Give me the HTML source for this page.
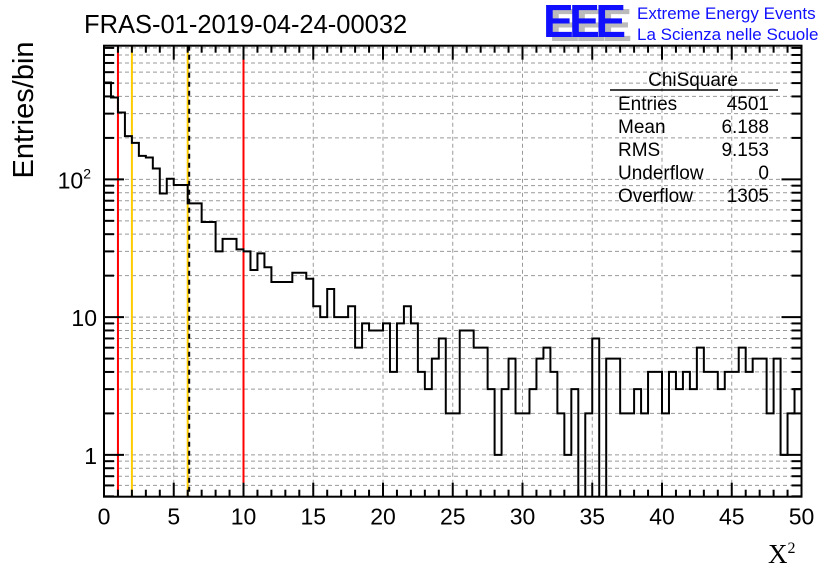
<!DOCTYPE html>
<html><head><meta charset="utf-8"><style>
html,body{margin:0;padding:0;background:#fff;}
svg{display:block;font-family:"Liberation Sans",sans-serif;}
</style></head><body>
<svg id="chart" width="836" height="572" viewBox="0 0 836 572">
<g id="grid"></g>
<g id="refs"></g>
<clipPath id="clip"><rect x="104" y="45.7" width="697.5" height="451"/></clipPath>
<path id="hist" fill="none" stroke="#000" stroke-width="2" clip-path="url(#clip)"/>
<rect x="104" y="45.7" width="697.5" height="451" fill="none" stroke="#000" stroke-width="2"/>
<g id="axes"></g>
<text x="84" y="33" font-size="25.5">FRAS-01-2019-04-24-00032</text>
<g>
<text x="549" y="41" font-size="46" font-weight="bold" fill="#bbb" letter-spacing="-4.5">EEE</text>
<text x="543" y="37" font-size="46" font-weight="bold" fill="#1010ff" letter-spacing="-4.5">EEE</text>
<text x="637" y="19" font-size="17" fill="#1010ff">Extreme Energy Events</text>
<text x="637" y="40" font-size="17" fill="#1010ff">La Scienza nelle Scuole</text>
</g>
<g font-size="19">
<text x="693" y="86" text-anchor="middle">ChiSquare</text>
<line x1="610" y1="90" x2="778" y2="90" stroke="#000" stroke-width="1.5"/>
<text x="618" y="110">Entries</text><text x="769" y="110" text-anchor="end">4501</text>
<text x="618" y="133">Mean</text><text x="769" y="133" text-anchor="end">6.188</text>
<text x="618" y="156">RMS</text><text x="769" y="156" text-anchor="end">9.153</text>
<text x="618" y="179">Underflow</text><text x="769" y="179" text-anchor="end">0</text>
<text x="618" y="202">Overflow</text><text x="769" y="202" text-anchor="end">1305</text>
</g>
<text transform="translate(33,110) rotate(-90)" text-anchor="middle" font-size="29">Entries/bin</text>
<text x="768" y="563" font-size="27" font-family="Liberation Serif,serif">X<tspan font-size="16" dy="-10">2</tspan></text>
</svg>
<script>
const binCounts=[505,393,306,206,184,148,144,120,79,101,91,91,67,67,49,49,30,37,37,31,30,22,29,23,18,18,18,21,21,19,12,10,16,10,10,12,6,9,8,8,9,4,9,12,9,4,3,5,7,2,2,8,8,6,6,3,1,3,5,2,2,3,5,6,4,2,1,3,0,2,7,0,5,5,2,2,3,2,4,4,2,4,3,4,3,6,4,4,3,4,4,6,4,5,5,2,5,1,2,3];
const xTicks=[0,5,10,15,20,25,30,35,40,45,50];
const yTickLabels=[{v:1,t:"1"},{v:10,t:"10"},{v:100,t:"10"}];
const refRed=[1,10];
const refYellow=[2,6];
const meanLine=[6];
const X0=104,X1=801.5,Y0=496.7,Y1=45.7,XMIN=0,XMAX=50,YMIN=0.497,YMAX=934;
const NS="http://www.w3.org/2000/svg";
function sx(v){return X0+(v-XMIN)/(XMAX-XMIN)*(X1-X0);}
function sy(v){if(v<=0)return Y0+20;return Y0-(Math.log10(v)-Math.log10(YMIN))/(Math.log10(YMAX)-Math.log10(YMIN))*(Y0-Y1);}
function mk(tag,attrs,parent){const e=document.createElementNS(NS,tag);for(const k in attrs)e.setAttribute(k,attrs[k]);parent.appendChild(e);return e;}
const grid=document.getElementById('grid'),axes=document.getElementById('axes'),refs=document.getElementById('refs');
for(const t of xTicks){if(t===XMIN||t===XMAX)continue;const l=mk('line',{x1:sx(t),x2:sx(t),y1:Y1,y2:Y0,stroke:'#999','stroke-dasharray':'4,3','stroke-width':1},grid);

}
for(let d=0.1;d<=100;d*=10){for(let m=1;m<10;m++){const v=d*m;if(v<YMIN||v>YMAX)continue;const y=sy(v);
const l=mk('line',{x1:X0,x2:X1,y1:y,y2:y,stroke:'#999','stroke-dasharray':'4,3','stroke-width':1},grid);


const big=(m===1);
const tl=mk('line',{x1:X0,x2:X0+(big?20:10),y1:y,y2:y,stroke:'#000','stroke-width':2},axes);


const tr=mk('line',{x1:X1,x2:X1-(big?20:10),y1:y,y2:y,stroke:'#000','stroke-width':2},axes);

}}
for(let v=XMIN;v<=XMAX;v+=1){const big=(v%5===0);const x=sx(v);
const tb=mk('line',{x1:x,x2:x,y1:Y0,y2:Y0-(big?14:7),stroke:'#000','stroke-width':2},axes);


const tt=mk('line',{x1:x,x2:x,y1:Y1,y2:Y1+(big?14:7),stroke:'#000','stroke-width':2},axes);

}
for(const t of xTicks){const tx=mk('text',{x:sx(t),y:Y0+28,'text-anchor':'middle','font-size':23},axes);tx.textContent=t;

}
for(const o of yTickLabels){const tx=mk('text',{x:o.v===100?91:97,y:sy(o.v)+9,'text-anchor':'end','font-size':23},axes);tx.textContent=o.t;


if(o.v===100){const s=mk('tspan',{'font-size':14,dy:-10},tx);s.textContent='2';}}
for(const v of refRed){const l=mk('line',{x1:sx(v),x2:sx(v),y1:Y1,y2:Y0,stroke:'#f00','stroke-width':2},refs);

}
for(const v of refYellow){const l=mk('line',{x1:sx(v),x2:sx(v),y1:Y1,y2:Y0,stroke:'#fc0','stroke-width':2},refs);

}
for(const v of meanLine){const l=mk('line',{x1:sx(v)+1.5,x2:sx(v)+1.5,y1:Y1,y2:Y0,stroke:'#000','stroke-width':2,'stroke-dasharray':'5,4'},refs);

}
const bw=(XMAX-XMIN)/binCounts.length;let d='';
binCounts.forEach((c,i)=>{const xa=sx(XMIN+i*bw),xb=sx(XMIN+(i+1)*bw),y=sy(c);d+=(i===0?'M':'L')+xa+','+y+'L'+xb+','+y;});
document.getElementById('hist').setAttribute('d',d);
</script>
</body></html>
